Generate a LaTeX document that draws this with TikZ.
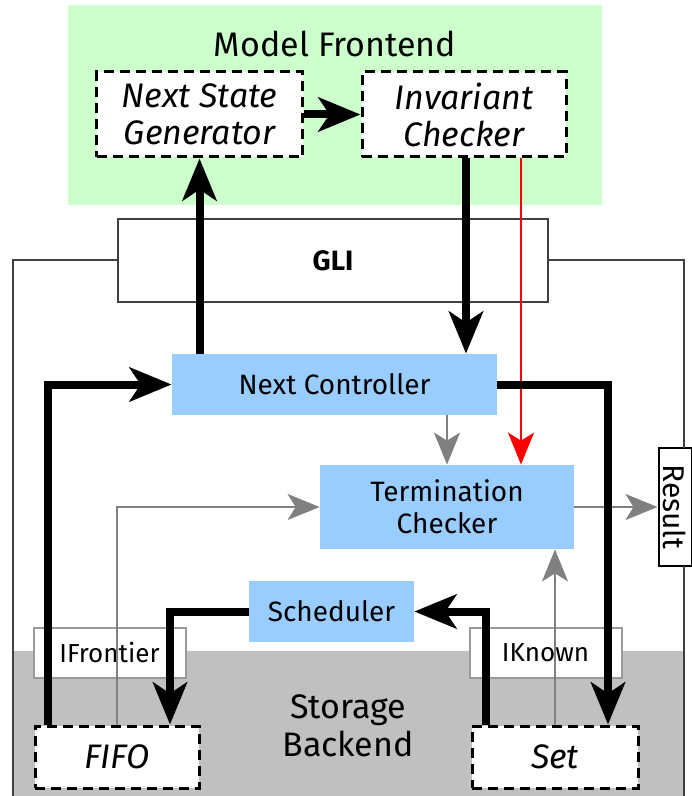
\documentclass[tikz,border=0pt]{standalone}
\usepackage{fontspec}
\setmainfont{Fira Sans}
\usetikzlibrary{calc,arrows.meta,positioning}

\definecolor{frontgreen}{HTML}{CCFFCC}
\definecolor{unitblue}{HTML}{99CCFF}
\definecolor{storegray}{HTML}{C0C0C0}

\tikzset{
  unit/.style={fill=unitblue, inner sep=0pt, align=center, font=\fontsize{14}{16}\selectfont},
  dshbox/.style={draw, dashed, dash pattern=on 5pt off 3pt, line width=1.5pt, fill=white, inner sep=0pt, align=center, font=\fontsize{17}{18.5}\selectfont\itshape},
  ifbox/.style={draw=gray!80, line width=1pt, fill=white, inner sep=0pt, font=\fontsize{13}{15}\selectfont},
  frame/.style={draw=black!75, line width=1pt},
  thk/.style={line width=4pt, -{Stealth[length=21pt,width=17pt,inset=5.5pt]}},
  gry/.style={gray, line width=1pt, -{Stealth[length=16pt,width=13pt,inset=4pt]}},
}

\begin{document}
\begin{tikzpicture}[x=0.5pt,y=-0.5pt]
\useasboundingbox (0,0) rectangle (691,796);

% the regions
\fill[frontgreen] (68,5) rectangle (602,205);
\node[font=\fontsize{17}{20}\selectfont] (front) at (335,44) {Model Frontend};
\fill[storegray] (13,651) rectangle (684,796);

% the boxes
\node[dshbox, minimum width=103pt, minimum height=42.5pt] (nsg) at (199.5,114.5) {Next State\\Generator};
\node[dshbox, minimum width=102pt, minimum height=42.5pt] (inv) at (464,114.5) {Invariant\\Checker};
\node[frame, fill=white, inner sep=0pt, minimum width=215pt, minimum height=41.5pt, font=\fontsize{14}{16}\selectfont\bfseries] (gli) at (333,260.5) {GLI};
\node[draw, line width=1pt, fill=white, inner sep=0pt, rotate=-90, minimum width=59pt, minimum height=16.5pt, font=\fontsize{15}{17}\selectfont] (res) at (675,507) {Result};

% the outer frame
\draw[frame] (gli.west) -| (13,800);
\draw[frame] (gli.east) -| (684,448);
\draw[frame] (684,566) -- (684,800);

\node[unit, minimum width=162.5pt, minimum height=30.5pt] (nc) at (334.5,384.5) {Next Controller};
\node[unit, minimum width=127pt, minimum height=42pt] (tc) at (447,507) {Termination\\Checker};
\node[unit, minimum width=82.5pt, minimum height=30.5pt] (sch) at (331.5,611.5) {Scheduler};
\node[ifbox, minimum width=76pt, minimum height=25pt] (ifr) at (109.5,653) {IFrontier};
\node[ifbox, minimum width=76pt, minimum height=25pt] (ikn) at (545.5,652.5) {IKnown};
\node[font=\fontsize{17}{19}\selectfont, align=center] (store) at (348,726) {Storage\\Backend};
\node[dshbox, minimum width=82pt, minimum height=31pt] (fifo) at (117,757) {FIFO};
\node[dshbox, minimum width=83pt, minimum height=31pt] (set) at (555,757) {Set};

% the thin arrows
\draw[gry] (tc.north |- nc.south) -- (tc.north);
\draw[gry] (tc.east) -- (tc.east -| res.south);
\draw[gry] (fifo.north) |- (tc.west);
\draw[gry] (set.north) -- (set.north |- tc.south);
\draw[red, line width=1pt, -{Stealth[length=16pt,width=13pt,inset=4pt]}] ([xshift=28.5pt]inv.south) -- ([xshift=28.5pt]inv.south |- tc.north);

% the thick arrows
\draw[thk] (nsg) -- (inv);
\draw[thk] (nsg.south |- nc.north) -- (nsg.south);
\draw[thk] ([xshift=1pt]inv.south) -- ([xshift=1pt]inv.south |- nc.north);
\draw[thk] (nc.east) -| ([xshift=26.5pt]set.north);
\draw[thk] ([xshift=-34.5pt]set.north) |- (sch.east);
\draw[thk] (sch.west) -| ([xshift=26.5pt]fifo.north);
\draw[thk] ([xshift=-34.5pt]fifo.north) |- (nc.west);

\end{tikzpicture}
\end{document}
